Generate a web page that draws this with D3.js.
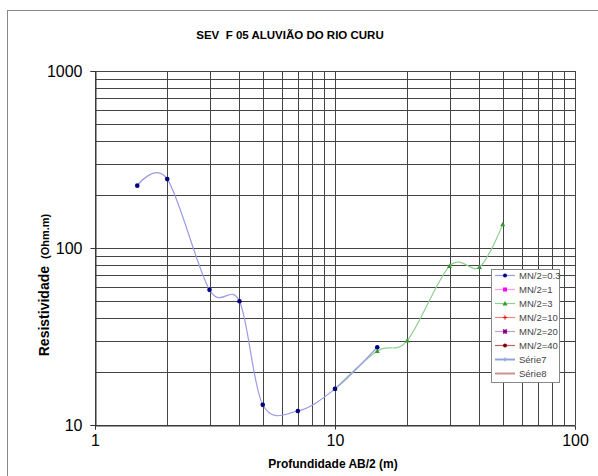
<!DOCTYPE html>
<html>
<head>
<meta charset="utf-8">
<script src="https://cdn.jsdelivr.net/npm/d3@7"></script>
<style>
  body { margin: 0; background: #fff; }
  svg { display: block; font-family: "Liberation Sans", Arial, sans-serif; }
</style>
</head>
<body>
<div id="chart"></div>
<script>
// dados da SEV
const ab2Mn03 = [1.5, 2, 3, 4, 5, 7, 10, 15];
const rhoMn03 = [225, 245, 58, 50, 13, 12, 16, 27.5];
const ab2Mn3 = [10, 15, 20, 30, 40, 50];
const rhoMn3 = [16, 26.2, 30, 79, 78, 136];
const xTicks = [1, 10, 100];
const yTicks = [10, 100, 1000];
const legendNames = ['MN/2=0.3', 'MN/2=1', 'MN/2=3', 'MN/2=10', 'MN/2=20', 'MN/2=40', 'Série7', 'Série8'];

const width = 598, height = 476;
const plot = { left: 95, right: 575, top: 71, bottom: 425 };

// estilo das series (linha, marcador)
const styles = [
  { line: '#9a9ae6', mark: '#000080', sym: 'circle' },
  { line: '#ff99ff', mark: '#ff00ff', sym: 'square' },
  { line: '#8fcf8f', mark: '#339933', sym: 'triangle' },
  { line: '#ff8080', mark: '#ff0000', sym: 'cross' },
  { line: '#cc99cc', mark: '#800080', sym: 'star' },
  { line: '#c06060', mark: '#800000', sym: 'circle' },
  { line: '#8fa6d8', mark: '#8fa6d8', sym: 'plus', w: 2 },
  { line: '#d09090', mark: null, sym: null, w: 2 }
];

const svg = d3.select('#chart').append('svg')
  .attr('width', width)
  .attr('height', height);

// moldura externa
svg.append('rect')
  .attr('x', 7.5).attr('y', 10.5)
  .attr('width', width + 10).attr('height', height + 10)
  .attr('fill', '#fff')
  .attr('stroke', '#888');

const x = d3.scaleLog().domain([1, 100]).range([plot.left, plot.right]);
const y = d3.scaleLog().domain([10, 1000]).range([plot.bottom, plot.top]);

// grade (linhas principais e secundarias)
const grid = svg.append('g').attr('shape-rendering', 'crispEdges');
const xGrid = [], yGrid = [];
[1, 10].forEach(d => { for (let k = 1; k <= 10; k++) xGrid.push(d * k); });
[10, 100].forEach(d => { for (let k = 1; k <= 10; k++) yGrid.push(d * k); });

grid.selectAll('.vg').data(Array.from(new Set(xGrid))).join('line')
  .attr('x1', d => Math.round(x(d)) + 0.5).attr('x2', d => Math.round(x(d)) + 0.5)
  .attr('y1', plot.top).attr('y2', plot.bottom)
  .attr('stroke', '#444').attr('stroke-width', 1);
grid.selectAll('.hg').data(Array.from(new Set(yGrid))).join('line')
  .attr('y1', d => Math.round(y(d)) + 0.5).attr('y2', d => Math.round(y(d)) + 0.5)
  .attr('x1', plot.left).attr('x2', plot.right)
  .attr('stroke', '#444').attr('stroke-width', 1);

// eixos
const xAxis = d3.axisBottom(x).tickValues(xTicks).tickFormat(d3.format('d')).tickSize(4).tickPadding(5);
const yAxis = d3.axisLeft(y).tickValues(yTicks).tickFormat(d3.format('d')).tickSize(5).tickPadding(8);

const gx = svg.append('g')
  .attr('transform', `translate(0,${plot.bottom + 0.5})`)
  .call(xAxis);
const gy = svg.append('g')
  .attr('transform', `translate(${plot.left + 0.5},0)`)
  .call(yAxis);
[gx, gy].forEach(g => {
  g.select('.domain').attr('stroke', '#333');
  g.selectAll('.tick line').attr('stroke', '#333');
  g.selectAll('text')
    .attr('font-family', '"Liberation Sans", Arial, sans-serif')
    .attr('font-size', 16)
    .attr('fill', '#000');
});
gy.selectAll('text').attr('dy', '0.35em');

// curvas suavizadas
const line = d3.line()
  .x(d => x(d[0]))
  .y(d => y(d[1]))
  .curve(d3.curveCatmullRom.alpha(0));

function drawSeries(xs, ys, st) {
  const pts = xs.map((v, i) => [v, ys[i]]);
  svg.append('path')
    .datum(pts)
    .attr('d', line)
    .attr('fill', 'none')
    .attr('stroke', st.line)
    .attr('stroke-width', 1.2);
  return pts;
}

function marker(g, sym, cx, cy, color, s) {
  if (sym === 'circle') {
    g.append('circle').attr('cx', cx).attr('cy', cy).attr('r', s).attr('fill', color);
  } else if (sym === 'square') {
    g.append('rect').attr('x', cx - s).attr('y', cy - s).attr('width', 2 * s).attr('height', 2 * s).attr('fill', color);
  } else if (sym === 'triangle') {
    g.append('path')
      .attr('d', `M${cx},${cy - s - 0.5}L${cx + s + 0.5},${cy + s}L${cx - s - 0.5},${cy + s}Z`)
      .attr('fill', color);
  } else if (sym === 'cross' || sym === 'star' || sym === 'plus') {
    g.append('path')
      .attr('d', `M${cx - s},${cy}L${cx + s},${cy}M${cx},${cy - s}L${cx},${cy + s}` +
        (sym === 'star' ? `M${cx - s},${cy - s}L${cx + s},${cy + s}M${cx - s},${cy + s}L${cx + s},${cy - s}` : ''))
      .attr('stroke', color).attr('stroke-width', 1.2);
  }
}

const p3 = drawSeries(ab2Mn3, rhoMn3, styles[2]);
const p03 = drawSeries(ab2Mn03, rhoMn03, styles[0]);

const marks = svg.append('g');
p3.forEach(d => marker(marks, 'triangle', x(d[0]), y(d[1]), styles[2].mark, 2));
p03.forEach(d => marker(marks, 'circle', x(d[0]), y(d[1]), styles[0].mark, 2.3));

// legenda
const lg = svg.append('g').attr('transform', 'translate(491,269)');
lg.append('rect')
  .attr('x', 0.5).attr('y', 0.5)
  .attr('width', 68).attr('height', 113)
  .attr('fill', '#fff')
  .attr('stroke', '#888');
legendNames.forEach((name, i) => {
  const st = styles[i];
  const ry = 6.5 + i * 14;
  lg.append('line')
    .attr('x1', 4).attr('x2', 24)
    .attr('y1', ry).attr('y2', ry)
    .attr('stroke', st.line)
    .attr('stroke-width', st.w || 1.2);
  if (st.sym) marker(lg, st.sym, 14, ry, st.mark, 2);
  lg.append('text')
    .attr('x', 28).attr('y', ry)
    .attr('dy', '0.35em')
    .attr('font-size', 9.5)
    .attr('fill', '#444')
    .text(name);
});

// titulos
svg.append('text')
  .attr('x', 290).attr('y', 39)
  .attr('text-anchor', 'middle')
  .attr('font-size', 11.5)
  .attr('font-weight', 'bold')
  .style('white-space', 'pre')
  .text('SEV  F 05 ALUVIÃO DO RIO CURU');

svg.append('text')
  .attr('x', 333).attr('y', 468)
  .attr('text-anchor', 'middle')
  .attr('font-size', 12)
  .attr('font-weight', 'bold')
  .text('Profundidade AB/2 (m)');

const yt = svg.append('text')
  .attr('transform', 'translate(49,285) rotate(-90)')
  .attr('text-anchor', 'middle')
  .attr('font-weight', 'bold');
yt.append('tspan').attr('font-size', 14).text('Resistividade');
yt.append('tspan').attr('font-size', 11).attr('dx', 7).text('(Ohm.m)');
</script>
</body>
</html>
